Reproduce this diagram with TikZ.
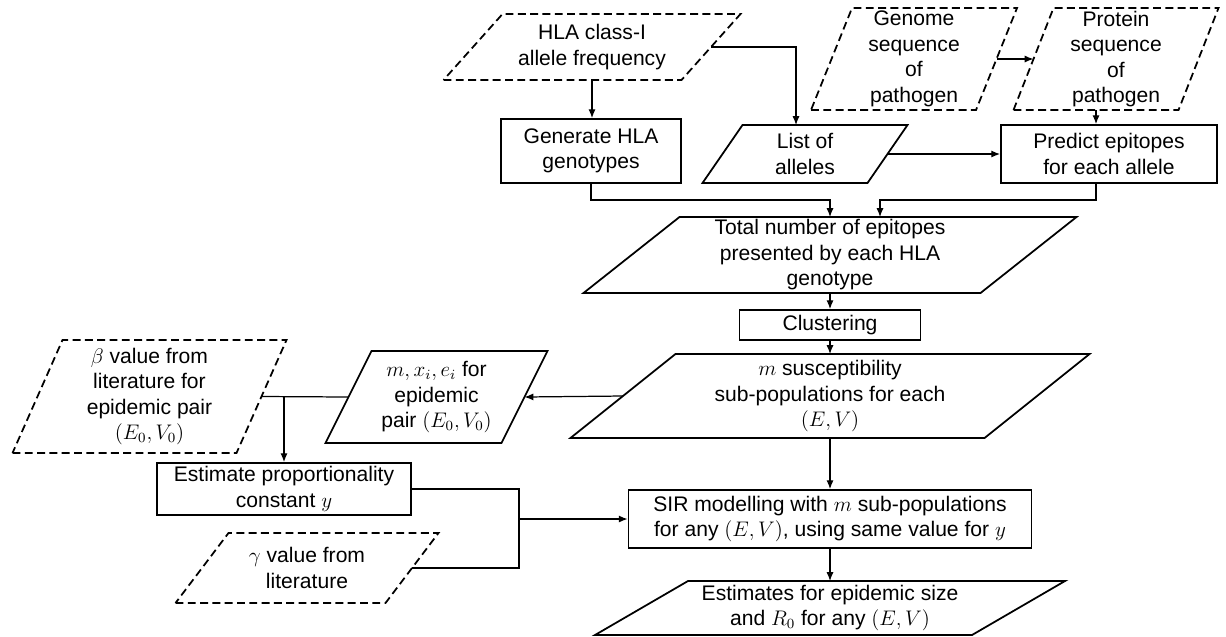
\documentclass[tikz,border=0pt]{standalone}
\usepackage{fontspec}
\setmainfont{Liberation Sans}
\usetikzlibrary{arrows.meta}

\tikzset{
	proc/.style={draw,line width=1pt,rectangle,inner sep=0pt,align=center},
	data/.style={rectangle,inner sep=0pt,outer sep=0pt,align=center},
	given/.style={dash pattern=on 4.5pt off 2.5pt},
}
% outline of a data node: [style] name, slant
\newcommand{\slanted}[3][]{%
	\draw[line width=1pt,#1] ([xshift=-0.5*#3]#2.south west) -- ([xshift=-0.5*#3]#2.south east)
		-- ([xshift=0.5*#3]#2.north east) -- ([xshift=0.5*#3]#2.north west) -- cycle;}

\begin{document}
\begin{tikzpicture}[>={Latex[length=5pt,width=4pt]},line width=0.7pt,
	font=\fontsize{12}{14.5}\selectfont]
	\useasboundingbox (0,0) rectangle (24.52,-12.72);
	% inputs and alleles
	\node[data,minimum width=4.76cm,minimum height=1.32cm] (hla) at (11.84,-0.94)
		{HLA class-I\\allele frequency};
	\node[data,minimum width=3.3cm,minimum height=2.04cm] (genome) at (18.28,-1.18)
		{Genome\\sequence\\of\\pathogen};
	\node[data,minimum width=3.3cm,minimum height=2.04cm] (protein) at (22.32,-1.18)
		{Protein\\sequence\\of\\pathogen};
	\node[proc,minimum width=3.6cm,minimum height=1.28cm] (gen) at (11.82,-3.02)
		{Generate HLA\\genotypes};
	\node[data,minimum width=3.3cm,minimum height=1.16cm] (list) at (16.1,-3.08)
		{List of\\alleles};
	\node[proc,minimum width=4.32cm,minimum height=1.16cm] (pred) at (22.18,-3.08)
		{Predict epitopes\\for each allele};
	\slanted[given]{hla}{1.18cm}
	\slanted[given]{genome}{0.82cm}
	\slanted[given]{protein}{0.8cm}
	\slanted{list}{0.8cm}

	% middle column
	\node[data,minimum width=7.94cm,minimum height=1.52cm] (total) at (16.6,-5.1)
		{Total number of epitopes\\presented by each HLA\\genotype};
	\node[proc,minimum width=3.62cm,minimum height=0.6cm] (clus) at (16.6,-6.5) {Clustering};
	\node[data,minimum width=8.28cm,minimum height=1.68cm] (msus) at (16.6,-7.92)
		{$m$ susceptibility\\sub-populations for each\\$(E,V)$};
	\node[proc,minimum width=8.06cm,minimum height=1.16cm] (sir) at (16.6,-10.38)
		{SIR modelling with $m$ sub-populations\\for any $(E,V)$, using same value for $y$};
	\node[data,minimum width=7.54cm,minimum height=1.08cm] (est) at (16.6,-12.16)
		{Estimates for epidemic size\\and $R_0$ for any $(E,V)$};
	\slanted{total}{1.92cm}
	\slanted{msus}{2.1cm}
	\slanted{est}{1.86cm}

	% left side
	\node[data,minimum width=4.48cm,minimum height=2.26cm] (beta) at (2.99,-7.93)
		{$\beta$ value from\\literature for\\epidemic pair\\$(E_0,V_0)$};
	\node[data,minimum width=3.52cm,minimum height=1.84cm] (mx) at (8.73,-7.94)
		{$m,x_i,e_i$ for\\epidemic\\pair $(E_0,V_0)$};
	\node[proc,minimum width=5.08cm,minimum height=1.04cm] (estk) at (5.68,-9.78)
		{Estimate proportionality\\constant $y$};
	\node[data,minimum width=4.2cm,minimum height=1.4cm] (gamma) at (6.14,-11.36)
		{$\gamma$ value from\\literature};
	\slanted[given]{beta}{1cm}
	\slanted{mx}{0.92cm}
	\slanted[given]{gamma}{1.06cm}

	% connectors
	\draw[->] (hla.south) -- (hla.south |- gen.north);
	\draw[->] (hla.east) -| ([xshift=-0.18cm]list.north);
	\draw[->] (genome.east) -- (protein.west);
	\draw[->] (list.east) -- (pred.west);
	\draw[->] ([xshift=-0.4cm]protein.south) -- ([xshift=-0.4cm]protein.south |- pred.north);
	\draw[->] (gen.south) -- ++(0,-0.32) -| (total.north);
	\draw[->] ([xshift=-0.26cm]pred.south) -- ++(0,-0.32) -| ([xshift=1cm]total.north);
	\draw[->] (total.south) -- (clus.north);
	\draw[->] (clus.south) -- (msus.north);
	\draw[->] (msus.west) -- (mx.east);
	\draw[->] (msus.south) -- (sir.north);
	\draw[->] (sir.south) -- (est.north);
	\draw (mx.west) -- (beta.east);
	\draw[->] (estk.north |- mx.west) -- (estk.north);
	\coordinate (jn) at (10.38,-10.38);
	\draw (estk.east) -| (jn) |- (gamma.east);
	\draw[->] (jn) -- (sir.west);
\end{tikzpicture}
\end{document}
